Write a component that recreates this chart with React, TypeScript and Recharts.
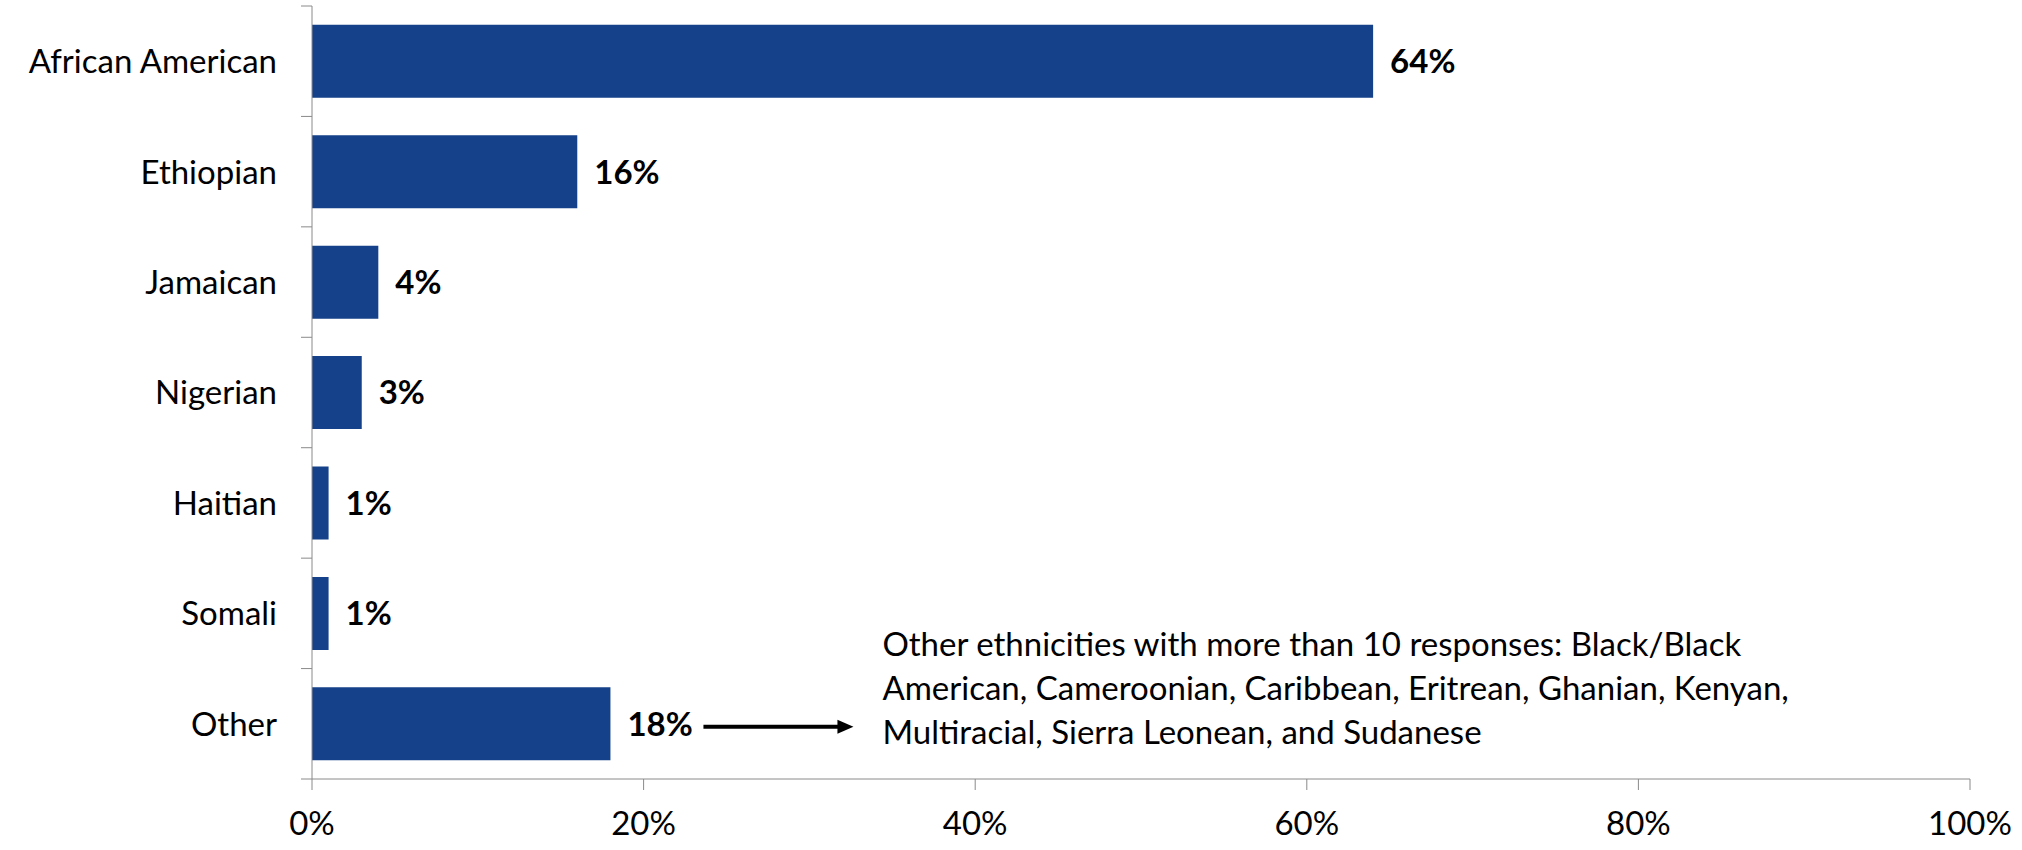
import React from 'react';
import { BarChart, Bar, XAxis, YAxis, LabelList } from 'recharts';

const categories = ['African American', 'Ethiopian', 'Jamaican', 'Nigerian', 'Haitian', 'Somali', 'Other'];
const shares = [64, 16, 4, 3, 1, 1, 18];
const xTicks = [0, 20, 40, 60, 80, 100];
const noteLines = [
  'Other ethnicities with more than 10 responses: Black/Black',
  'American, Cameroonian, Caribbean, Eritrean, Ghanian, Kenyan,',
  'Multiracial, Sierra Leonean, and Sudanese',
];
const noteFor = 'Other';

const data = categories.map((name, i) => ({ name, value: shares[i] }));

const FONT = 'Lato, "Open Sans", sans-serif';
const FONT_SIZE = 33;
const BAR_COLOR = '#14418a';
const AXIS_COLOR = '#8a8a8a';

const CHART_W = 2022;
const CHART_H = 850;
const MARGIN = { top: 6, right: 52, left: 0, bottom: 11 };
const X_AXIS_H = 60;
const Y_TICK_MARGIN = 35;
const BAND = (CHART_H - MARGIN.top - MARGIN.bottom - X_AXIS_H) / categories.length;

// category label + Excel-style tick marks on the category boundaries
const CategoryTick = (props: any) => {
  const { x, y, payload, index } = props;
  const axisX = Number(x) + Y_TICK_MARGIN;
  const isLast = index === categories.length - 1;
  return (
    <g>
      <line x1={axisX - 11} x2={axisX} y1={y - BAND / 2} y2={y - BAND / 2} stroke={AXIS_COLOR} />
      {isLast && (
        <line x1={axisX - 11} x2={axisX} y1={y + BAND / 2} y2={y + BAND / 2} stroke={AXIS_COLOR} />
      )}
      <text x={x} y={y} dy="0.36em" textAnchor="end" fontFamily={FONT} fontSize={FONT_SIZE} fill="#000">
        {payload.value}
      </text>
    </g>
  );
};

// value label right of each bar, plus the note + arrow for the "Other" bar
const renderValueLabel = (props: any) => {
  const { x, y, width, height, value, index } = props;
  const endX = Number(x) + Number(width);
  const midY = Number(y) + Number(height) / 2;
  const isNote = categories[index] === noteFor;
  return (
    <g>
      <text
        x={endX + 17}
        y={midY}
        dy="0.36em"
        fontFamily={FONT}
        fontSize={FONT_SIZE}
        fontWeight="bold"
        fill="#000"
      >
        {`${value}%`}
      </text>
      {isNote && (
        <g>
          <line x1={endX + 93} y1={midY + 3} x2={endX + 230} y2={midY + 3} stroke="#000" strokeWidth={4} />
          <polygon
            points={`${endX + 243},${midY + 3} ${endX + 227},${midY - 4} ${endX + 227},${midY + 10}`}
            fill="#000"
          />
          {noteLines.map((line, i) => (
            <text
              key={i}
              x={endX + 272}
              y={midY - 80 + i * 44}
              dy="0.36em"
              fontFamily={FONT}
              fontSize={FONT_SIZE}
              fill="#000"
            >
              {line}
            </text>
          ))}
        </g>
      )}
    </g>
  );
};

export default function App() {
  return (
    <div style={{ position: 'absolute', left: 0, top: 0, background: '#fff' }}>
      <BarChart
        width={CHART_W}
        height={CHART_H}
        data={data}
        layout="vertical"
        barCategoryGap="17%"
        margin={MARGIN}
      >
        <XAxis
          type="number"
          domain={[0, 100]}
          ticks={xTicks}
          tickFormatter={(v) => `${v}%`}
          height={X_AXIS_H}
          stroke={AXIS_COLOR}
          tickSize={11}
          tickMargin={22}
          tick={{ fill: '#000', fontFamily: FONT, fontSize: FONT_SIZE }}
        />
        <YAxis
          type="category"
          dataKey="name"
          width={312}
          interval={0}
          axisLine={{ stroke: AXIS_COLOR }}
          tickLine={false}
          tickSize={0}
          tickMargin={Y_TICK_MARGIN}
          tick={<CategoryTick />}
        />
        <Bar dataKey="value" fill={BAR_COLOR} isAnimationActive={false}>
          <LabelList dataKey="value" content={renderValueLabel} />
        </Bar>
      </BarChart>
    </div>
  );
}
